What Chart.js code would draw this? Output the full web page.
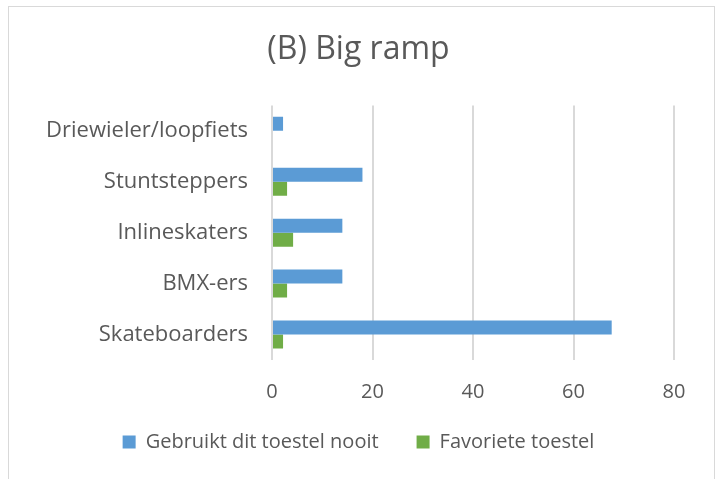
<!DOCTYPE html>
<html lang="nl">
<head>
    <meta charset="UTF-8">
    <title>(B) Big ramp</title>
    <script src="https://cdn.jsdelivr.net/npm/chart.js"></script>
    <style>
        html, body { margin: 0; padding: 0; background: #fff; overflow: hidden; }
        #frame {
            position: absolute;
            left: 8px; top: 6px;
            width: 705px; height: 480px;
            border: 1px solid #d9d9d9;
        }
    </style>
</head>
<body>
<div id="frame">
    <canvas id="myChart" width="705" height="480"></canvas>
</div>

<script>
// data
const categories = ['Driewieler/loopfiets', 'Stuntsteppers', 'Inlineskaters', 'BMX-ers', 'Skateboarders'];
const nooit = [2.2, 18, 14, 14, 67.6];
const favoriet = [0, 3, 4.2, 3, 2.2];
const seriesNames = ['Gebruikt dit toestel nooit', 'Favoriete toestel'];
const xTicks = [0, 20, 40, 60, 80];

const textColor = '#595959';
const gridColor = '#d9d9d9';
const fontFamily = '"Open Sans", Lato, sans-serif';

const ctx = document.getElementById('myChart').getContext('2d');
new Chart(ctx, {
    type: 'bar',
    data: {
        labels: categories,
        datasets: [
            {
                label: seriesNames[0],
                data: nooit,
                backgroundColor: '#5b9bd5',
                categoryPercentage: 0.55,
                barPercentage: 1
            },
            {
                label: seriesNames[1],
                data: favoriet,
                backgroundColor: '#70ad47',
                categoryPercentage: 0.55,
                barPercentage: 1
            }
        ]
    },
    options: {
        indexAxis: 'y',
        responsive: false,
        animation: false,
        layout: { padding: { left: 34, right: 40, top: 0, bottom: 25 } },
        plugins: {
            title: {
                display: true,
                text: '(B) Big ramp',
                color: textColor,
                font: { family: fontFamily, size: 32, weight: 'normal' },
                padding: { top: 24, bottom: 36 }
            },
            legend: {
                position: 'bottom',
                labels: {
                    color: textColor,
                    font: { family: fontFamily, size: 20 },
                    boxWidth: 13,
                    boxHeight: 13,
                    padding: 12,
                    // wider gap between the two entries, as in the original
                    generateLabels: chart => {
                        const items = Chart.defaults.plugins.legend.labels.generateLabels(chart);
                        items[0].text = items[0].text + '     ';
                        return items;
                    }
                }
            },
            tooltip: { enabled: false }
        },
        scales: {
            x: {
                min: xTicks[0],
                max: xTicks[xTicks.length - 1],
                afterBuildTicks: scale => { scale.ticks = xTicks.map(v => ({ value: v })); },
                afterFit: scale => { scale.height = 60; },
                grid: { color: gridColor, lineWidth: 2, drawTicks: false },
                border: { display: false },
                ticks: {
                    color: textColor,
                    padding: 20,
                    font: { family: fontFamily, size: 20 }
                }
            },
            y: {
                afterFit: scale => { scale.width = 229; },
                grid: { display: false, drawTicks: false },
                border: { display: false },
                ticks: {
                    color: textColor,
                    padding: 24,
                    font: { family: fontFamily, size: 22 }
                }
            }
        }
    }
});
</script>
</body>
</html>
